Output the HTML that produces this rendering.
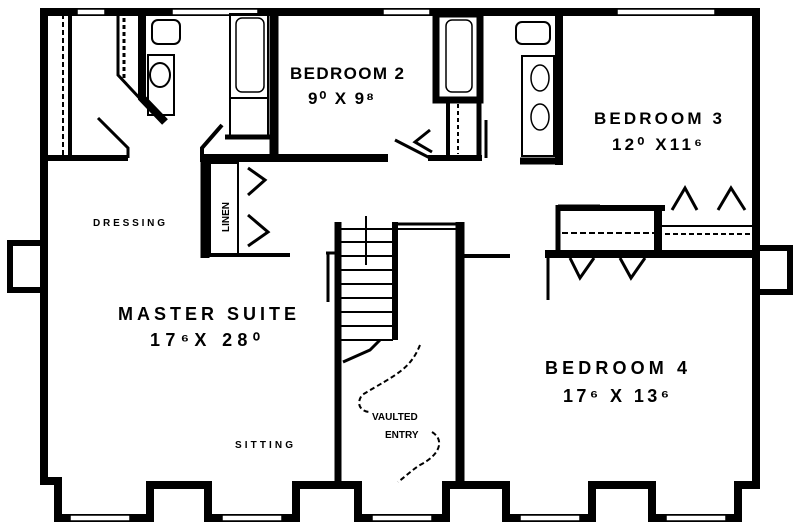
<!DOCTYPE html>
<html><head><meta charset="utf-8"><style>
html,body{margin:0;padding:0;background:#fff;width:800px;height:528px;overflow:hidden}
text{font-family:"Liberation Sans",sans-serif;fill:#000}
</style></head><body>
<svg width="800" height="528" viewBox="0 0 800 528" xmlns="http://www.w3.org/2000/svg">
<g fill="none" stroke="#000" stroke-linejoin="miter">
<path d="M44,481 L44,12 L756,12 L756,485 L738,485 L738,518 L652,518 L652,485 L592,485 L592,518 L506,518 L506,485 L446,485 L446,518 L358,518 L358,485 L296,485 L296,518 L208,518 L208,485 L150,485 L150,518 L58,518 L58,481 Z" stroke-width="8"/>
<path d="M40,243 L10,243 L10,290 L40,290" stroke-width="6"/>
<path d="M760,248 L790,248 L790,292 L760,292" stroke-width="6"/>
</g>
<g fill="#fff" stroke="#000" stroke-width="1.5">
<rect x="77" y="9" width="28" height="6"/>
<rect x="172" y="9" width="86" height="6"/>
<rect x="383" y="9" width="47" height="6"/>
<rect x="617" y="9" width="98" height="6"/>
<rect x="70" y="515" width="60" height="6"/>
<rect x="222" y="515" width="60" height="6"/>
<rect x="372" y="515" width="60" height="6"/>
<rect x="520" y="515" width="60" height="6"/>
<rect x="666" y="515" width="60" height="6"/>
</g>
<g fill="none" stroke="#000">
<line x1="70" y1="14" x2="70" y2="156" stroke-width="4"/>
<line x1="63" y1="14" x2="63" y2="156" stroke-width="2" stroke-dasharray="5,3"/>
<line x1="48" y1="158" x2="128" y2="158" stroke-width="6"/>
<path d="M98,118 L128,148 L128,158" stroke-width="3"/>
<path d="M118,14 L118,75 L160,120" stroke-width="3"/>
<line x1="124" y1="18" x2="124" y2="78" stroke-width="3" stroke-dasharray="4,3"/>
<path d="M142,14 L142,98 L165,122" stroke-width="8"/>
<rect x="152" y="20" width="28" height="24" stroke-width="2" rx="6"/>
<rect x="148" y="55" width="26" height="60" stroke-width="2"/>
<ellipse cx="160" cy="75" rx="10" ry="12" stroke-width="2"/>
<rect x="230" y="14" width="38" height="84" stroke-width="2"/>
<rect x="236" y="18" width="28" height="74" rx="6" stroke-width="1.5"/>
<rect x="230" y="98" width="38" height="38" stroke-width="2"/>
<path d="M222,125 L202,148 L202,160" stroke-width="4"/>
<line x1="274" y1="14" x2="274" y2="160" stroke-width="9"/>
<line x1="225" y1="137" x2="274" y2="137" stroke-width="5"/>
<line x1="200" y1="158" x2="388" y2="158" stroke-width="8"/>
<line x1="205" y1="158" x2="205" y2="258" stroke-width="9"/>
<rect x="210" y="163" width="28" height="92" stroke-width="2"/>
<line x1="205" y1="255" x2="290" y2="255" stroke-width="4"/>
<path d="M248,168 L265,180 L248,195 M248,215 L268,232 L248,246" stroke-width="3"/>
<rect x="436" y="14" width="44" height="86" stroke-width="7"/>
<rect x="446" y="20" width="26" height="72" rx="6" stroke-width="1.5"/>
<line x1="448" y1="100" x2="448" y2="158" stroke-width="4"/>
<line x1="479" y1="100" x2="479" y2="158" stroke-width="5"/>
<line x1="458" y1="104" x2="458" y2="154" stroke-width="2" stroke-dasharray="4,3"/>
<line x1="428" y1="158" x2="482" y2="158" stroke-width="6"/>
<line x1="486" y1="120" x2="486" y2="158" stroke-width="3"/>
<path d="M395,140 L430,158 M430,130 L415,142 L432,152" stroke-width="3"/>
<rect x="516" y="22" width="34" height="22" rx="6" stroke-width="2"/>
<rect x="522" y="56" width="32" height="100" stroke-width="2"/>
<ellipse cx="540" cy="78" rx="9" ry="13" stroke-width="1.5"/>
<ellipse cx="540" cy="117" rx="9" ry="13" stroke-width="1.5"/>
<line x1="559" y1="14" x2="559" y2="165" stroke-width="8"/>
<line x1="520" y1="161" x2="563" y2="161" stroke-width="7"/>
<line x1="558" y1="208" x2="665" y2="208" stroke-width="6"/>
<line x1="558" y1="206" x2="600" y2="206" stroke-width="3"/>
<line x1="558" y1="205" x2="558" y2="258" stroke-width="5"/>
<line x1="658" y1="208" x2="658" y2="255" stroke-width="8"/>
<line x1="662" y1="226" x2="752" y2="226" stroke-width="2"/>
<line x1="562" y1="233" x2="655" y2="233" stroke-width="2" stroke-dasharray="6,3"/>
<line x1="665" y1="234" x2="752" y2="234" stroke-width="2" stroke-dasharray="5,3"/>
<line x1="545" y1="254" x2="756" y2="254" stroke-width="8"/>
<line x1="548" y1="254" x2="548" y2="300" stroke-width="3"/>
<path d="M672,210 L685,188 L697,210 M718,210 L731,188 L745,210" stroke-width="3"/>
<path d="M570,258 L580,278 L594,258 M620,258 L631,278 L645,258" stroke-width="3"/>
<line x1="338" y1="222" x2="338" y2="485" stroke-width="7"/>
<line x1="395" y1="222" x2="395" y2="340" stroke-width="6"/>
<line x1="460" y1="222" x2="460" y2="485" stroke-width="9"/>
<line x1="395" y1="224" x2="464" y2="224" stroke-width="3"/>
<line x1="395" y1="229" x2="458" y2="229" stroke-width="2"/>
<line x1="463" y1="256" x2="510" y2="256" stroke-width="4"/>
<line x1="328" y1="252" x2="328" y2="302" stroke-width="3"/>
<line x1="326" y1="253" x2="338" y2="253" stroke-width="3"/>
<g stroke-width="2">
<line x1="341" y1="229" x2="393" y2="229"/><line x1="341" y1="242" x2="393" y2="242"/>
<line x1="341" y1="256" x2="393" y2="256"/><line x1="341" y1="270" x2="393" y2="270"/>
<line x1="341" y1="284" x2="393" y2="284"/><line x1="341" y1="298" x2="393" y2="298"/>
<line x1="341" y1="312" x2="393" y2="312"/><line x1="341" y1="326" x2="393" y2="326"/>
<line x1="341" y1="340" x2="393" y2="340"/>
<line x1="366" y1="216" x2="366" y2="265"/>
</g>
<path d="M343,362 L370,350 L380,340" stroke-width="3"/>
<path d="M420,345 C410,370 395,375 362,395 C355,405 362,412 370,412" stroke-width="2" stroke-dasharray="5,3"/>
<path d="M432,432 C445,440 440,455 420,465 C412,470 406,476 398,482" stroke-width="2" stroke-dasharray="5,3"/>
</g>
<text x="290" y="79" font-size="17" font-weight="bold" textLength="114" lengthAdjust="spacing">BEDROOM 2</text>
<text x="308" y="104" font-size="17" font-weight="bold" textLength="66" lengthAdjust="spacing">9⁰ X 9⁸</text>
<text x="594" y="124" font-size="17" font-weight="bold" textLength="128" lengthAdjust="spacing">BEDROOM 3</text>
<text x="612" y="150" font-size="17" font-weight="bold" textLength="90" lengthAdjust="spacing">12⁰ X11⁶</text>
<text x="118" y="320" font-size="18" font-weight="bold" textLength="178" lengthAdjust="spacing">MASTER SUITE</text>
<text x="150" y="346" font-size="18" font-weight="bold" textLength="110" lengthAdjust="spacing">17⁶X 28⁰</text>
<text x="545" y="374" font-size="18" font-weight="bold" textLength="142" lengthAdjust="spacing">BEDROOM 4</text>
<text x="563" y="402" font-size="18" font-weight="bold" textLength="106" lengthAdjust="spacing">17⁶ X 13⁶</text>
<text x="93" y="226" font-size="10" font-weight="bold" textLength="72" lengthAdjust="spacing">DRESSING</text>
<text x="235" y="448" font-size="10" font-weight="bold" textLength="58" lengthAdjust="spacing">SITTING</text>
<text x="372" y="420" font-size="10" font-weight="bold">VAULTED</text>
<text x="385" y="438" font-size="10" font-weight="bold">ENTRY</text>
<text transform="translate(229,232) rotate(-90)" font-size="10" font-weight="bold">LINEN</text>
</svg>
</body></html>
